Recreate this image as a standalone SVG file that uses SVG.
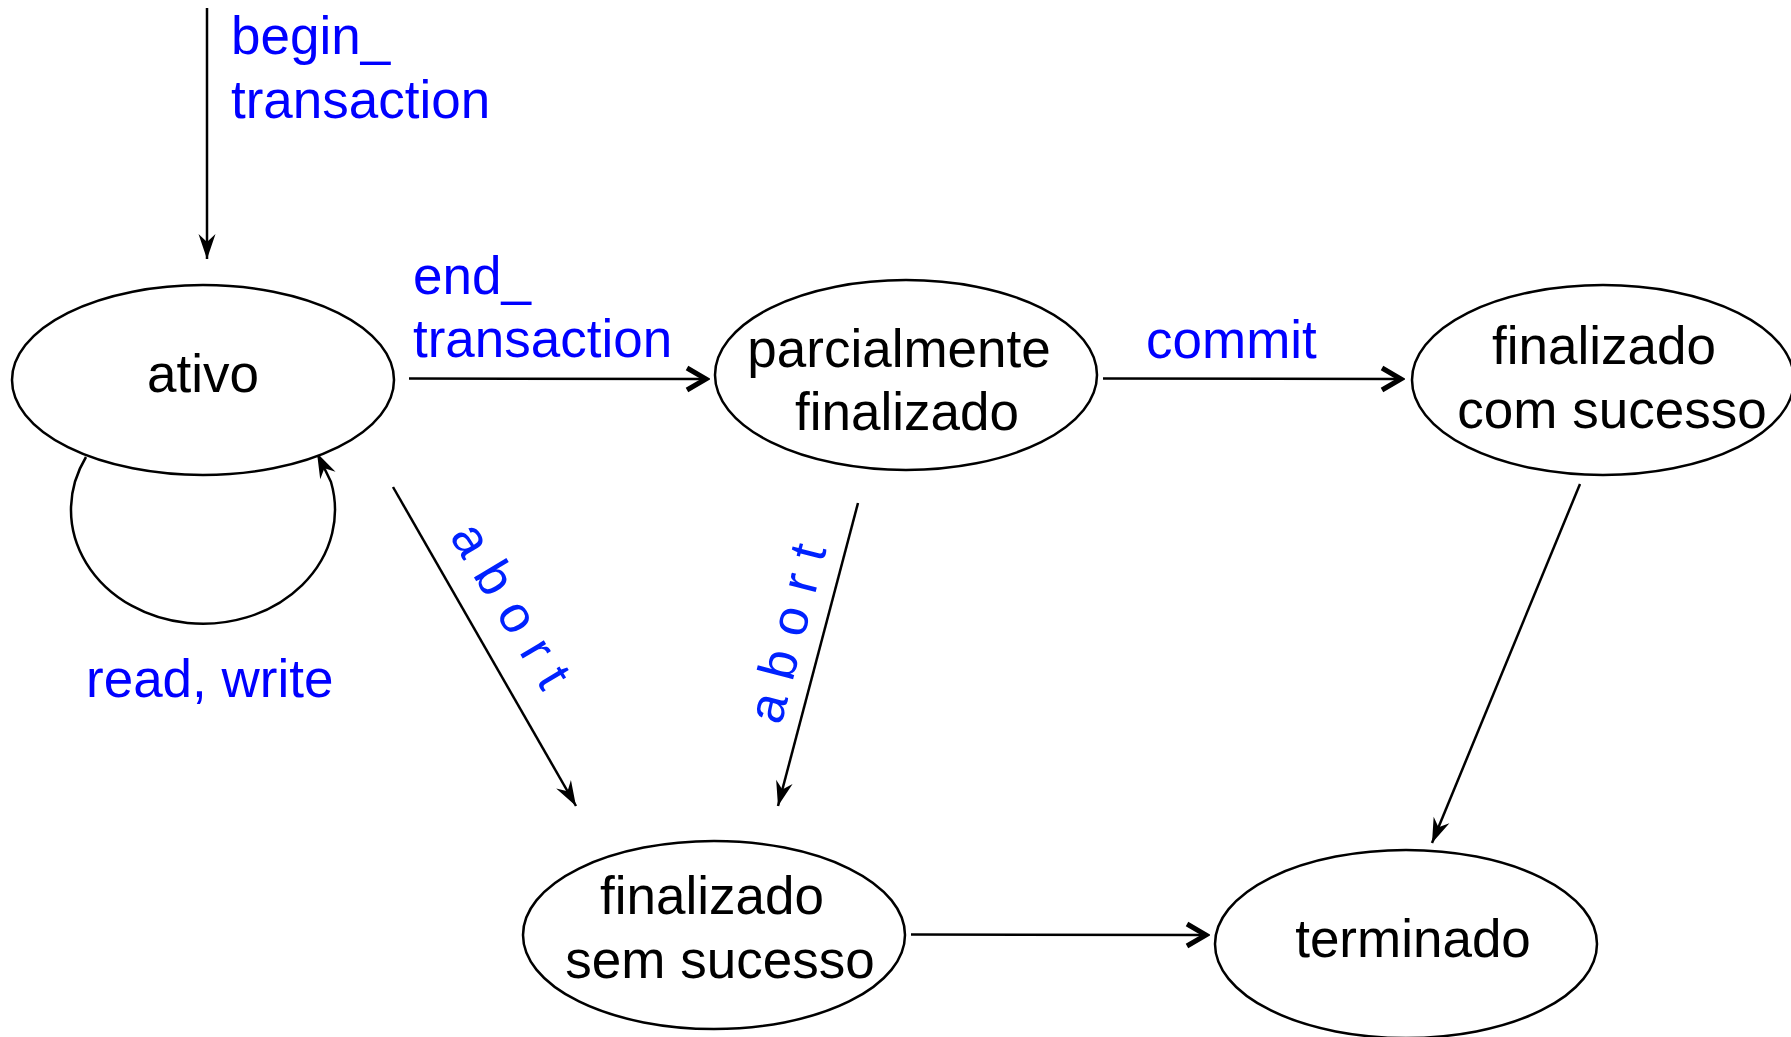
<svg xmlns="http://www.w3.org/2000/svg" width="1791" height="1037" viewBox="0 0 1791 1037">
<style>
  .node { fill: #ffffff; stroke: #000000; stroke-width: 2.5; }
  .lbl { font-family: "Liberation Sans", Arial, sans-serif; font-size: 53px; fill: #000000; text-anchor: middle; }
  .elbl { font-family: "Liberation Sans", Arial, sans-serif; font-size: 53px; fill: #0000ff; }
  .ab { font-family: "Liberation Sans", Arial, sans-serif; font-size: 52px; fill: #0022ff; letter-spacing: 16px; }
  .edge { fill: none; stroke: #000000; stroke-width: 2.5; }
</style>
<defs>
  <marker id="chev" markerUnits="userSpaceOnUse" viewBox="-24 -14 28 28" markerWidth="28" markerHeight="28" refX="0" refY="0" orient="auto">
    <path d="M -19 -11 L 0 0 L -19 11" fill="none" stroke="#000" stroke-width="5" stroke-linejoin="miter"/>
  </marker>
  <marker id="barb" markerUnits="userSpaceOnUse" viewBox="-28 -12 32 24" markerWidth="32" markerHeight="24" refX="0" refY="0" orient="auto">
    <path d="M 0 0 L -25 -8.5 L -17 0 L -25 8.5 Z" fill="#000"/>
  </marker>
</defs>

<g id="connectors">
  <line class="edge" x1="207" y1="8" x2="207" y2="259" marker-end="url(#barb)"/>
  <line class="edge" x1="409" y1="378.5" x2="706" y2="379" marker-end="url(#chev)"/>
  <line class="edge" x1="1103" y1="378.5" x2="1401" y2="379" marker-end="url(#chev)"/>
  <path class="edge" d="M 86 457 A 132 114 0 1 0 331 482 L 317 453" marker-end="url(#barb)"/>
  <line class="edge" x1="393" y1="487" x2="576" y2="806" marker-end="url(#barb)"/>
  <line class="edge" x1="858" y1="503" x2="778" y2="806" marker-end="url(#barb)"/>
  <line class="edge" x1="1580" y1="484" x2="1432" y2="843" marker-end="url(#barb)"/>
  <line class="edge" x1="911" y1="934.5" x2="1206" y2="935" marker-end="url(#chev)"/>
  <text class="elbl" x="231" y="54">begin_</text>
  <text class="elbl" x="231" y="118">transaction</text>
  <text class="elbl" x="413" y="294">end_</text>
  <text class="elbl" x="413" y="357">transaction</text>
  <text class="elbl" x="1146" y="358">commit</text>
  <text class="elbl" x="86" y="697">read, write</text>
  <text class="ab" x="449" y="536" transform="rotate(59 449 536)">abort</text>
  <text class="ab" x="781" y="726" transform="rotate(-75.5 781 726)">abort</text>
</g>

<g id="ativo">
  <ellipse class="node" cx="203" cy="380" rx="191" ry="95"/>
  <text class="lbl" x="203" y="392">ativo</text>
</g>
<g id="parcialmente-finalizado">
  <ellipse class="node" cx="906" cy="375" rx="191" ry="95"/>
  <text class="lbl" x="899" y="367">parcialmente</text>
  <text class="lbl" x="907" y="430">finalizado</text>
</g>
<g id="finalizado-com-sucesso">
  <ellipse class="node" cx="1603" cy="380" rx="191" ry="95"/>
  <text class="lbl" x="1604" y="364">finalizado</text>
  <text class="lbl" x="1612" y="428">com sucesso</text>
</g>
<g id="finalizado-sem-sucesso">
  <ellipse class="node" cx="714" cy="935" rx="191" ry="94"/>
  <text class="lbl" x="712" y="914">finalizado</text>
  <text class="lbl" x="720" y="978">sem sucesso</text>
</g>
<g id="terminado">
  <ellipse class="node" cx="1406" cy="944" rx="191" ry="94"/>
  <text class="lbl" x="1413" y="957">terminado</text>
</g>
</svg>
